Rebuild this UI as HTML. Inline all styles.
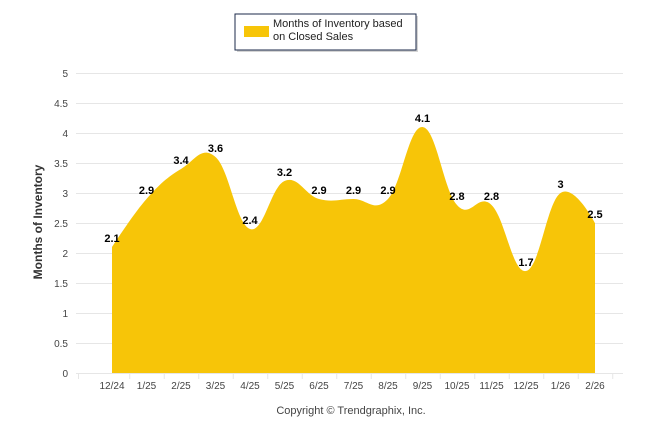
<!DOCTYPE html>
<html><head><style>
body{margin:0;background:#fff;}
svg text{font-family:"Liberation Sans",Arial,sans-serif;}
</style></head><body>
<svg id="s" width="646" height="434" xmlns="http://www.w3.org/2000/svg">
<rect width="646" height="434" fill="#fff"/>
<g id="grid" stroke="#e6e6e6" stroke-width="1"></g>
<path id="area" fill="#f7c508" stroke="none"/>
<g id="lab" font-size="11" font-weight="bold" fill="#000" text-anchor="middle"></g>
<g id="yl" font-size="10" fill="#444" text-anchor="end"></g>
<g id="xl" font-size="10" fill="#444" text-anchor="middle"></g>
<text x="42" y="222" font-size="12" font-weight="bold" fill="#333" text-anchor="middle" transform="rotate(-90 42 222)">Months of Inventory</text>
<rect x="237" y="16" width="181" height="36" fill="#aaa" opacity="0.5"/>
<rect x="235" y="14" width="181" height="36" fill="#fff" stroke="#1b2a4a" stroke-width="1"/>
<rect x="244" y="26" width="25" height="11" fill="#f7c508"/>
<text x="273" y="27" font-size="11" fill="#222">Months of Inventory based</text>
<text x="273" y="40" font-size="11" fill="#222">on Closed Sales</text>
<text x="351" y="414" font-size="11" fill="#444" text-anchor="middle">Copyright © Trendgraphix, Inc.</text>
</svg>
<script>
var d=[2.1,2.9,3.4,3.6,2.4,3.2,2.9,2.9,2.9,4.1,2.8,2.8,1.7,3,2.5];
var xs=["12/24","1/25","2/25","3/25","4/25","5/25","6/25","7/25","8/25","9/25","10/25","11/25","12/25","1/26","2/26"];
var NS="http://www.w3.org/2000/svg";
function el(t,a,p,txt){var e=document.createElementNS(NS,t);for(var k in a)e.setAttribute(k,a[k]);if(txt!=null)e.textContent=txt;document.getElementById(p).appendChild(e);}
for(var i=0;i<=10;i++){var y=373-30*i;el("line",{x1:76,x2:623,y1:y+0.5,y2:y+0.5},"grid");el("text",{x:68,y:y+4},"yl",String(i/2));}
el("line",{x1:78.5,x2:78.5,y1:373,y2:379},"grid");
for(var i=0;i<15;i++){var x=112+34.5*i;el("text",{x:x,y:389},"xl",xs[i]);el("line",{x1:x+17.25+0.5,x2:x+17.25+0.5,y1:373,y2:379},"grid");}
var P=d.map(function(v,i){return [112+34.5*i,373-60*v];});
var s="M"+P[0][0]+" 373 L"+P[0][0]+" "+P[0][1];
var cp=[];
for(var i=0;i<P.length;i++){
 if(i==0||i==P.length-1){cp.push(null);continue;}
 var x=P[i][0],y=P[i][1],lx=P[i-1][0],ly=P[i-1][1],nx=P[i+1][0],ny=P[i+1][1];
 var t=(ny-ly)/(nx-lx);var h=34.5*0.4;
 cp.push([x-h,y-t*h,x+h,y+t*h]);
}
for(var i=1;i<P.length;i++){
 var a=cp[i-1]?[cp[i-1][2],cp[i-1][3]]:P[i-1];
 var b=cp[i]?[cp[i][0],cp[i][1]]:P[i];
 s+=" C"+a[0]+" "+a[1]+" "+b[0]+" "+b[1]+" "+P[i][0]+" "+P[i][1];
}
s+=" L"+P[P.length-1][0]+" 373 Z";
document.getElementById("area").setAttribute("d",s);
for(var i=0;i<P.length;i++)el("text",{x:P[i][0],y:P[i][1]-5},"lab",String(d[i]));
</script>
</body></html>
